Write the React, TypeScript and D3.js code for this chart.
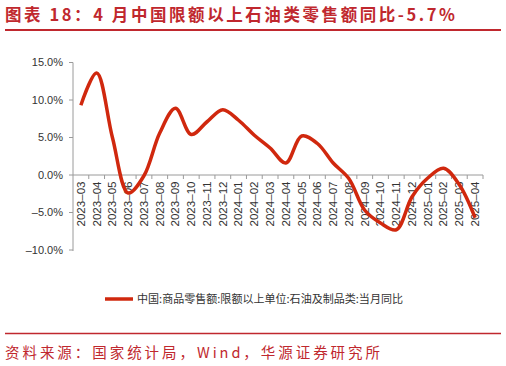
import React from "react";
import * as d3 from "d3";

const months = [
  "2023-03", "2023-04", "2023-05", "2023-06", "2023-07", "2023-08", "2023-09",
  "2023-10", "2023-11", "2023-12", "2024-01", "2024-02", "2024-03", "2024-04",
  "2024-05", "2024-06", "2024-07", "2024-08", "2024-09", "2024-10", "2024-11",
  "2024-12", "2025-01", "2025-02", "2025-03", "2025-04",
];
// 石油及制品类 当月同比 (%)
const oilYoY = [
  9.3, 13.6, 5.0, -2.4, -0.1, 5.6, 8.9,
  5.4, 7.1, 8.7, 7.3, 5.3, 3.6, 1.6,
  5.2, 4.2, 1.6, -0.5, -4.7, -6.4, -7.3,
  -2.9, -0.4, 0.9, -1.3, -5.7,
];
const yTicks = [-10, -5, 0, 5, 10, 15];

const titleText = "图表 18：4 月中国限额以上石油类零售额同比-5.7%";
const legendText = "中国:商品零售额:限额以上单位:石油及制品类:当月同比";
const sourceText = "资料来源：国家统计局，Wind，华源证券研究所";

const W = 506;
const H = 366;
const red = "#C0282E";
const lineColor = "#D0280E";
const axisColor = "#9a9a9a";
const txt = "#333";

export default function App() {
  const left = 73;
  const right = 483;
  const top = 62.5;
  const bottom = 250;

  const x = d3.scaleBand<string>().domain(months).range([left, right]);
  const y = d3.scaleLinear().domain([-10, 15]).range([bottom, top]);
  const fmt = (v: number) => d3.format(".1f")(v).replace("−", "–").replace("-", "–") + "%";

  const line = d3
    .line<number>()
    .x((_, i) => (x(months[i]) as number) + x.bandwidth() / 2)
    .y((d) => y(d))
    .curve(d3.curveCatmullRom.alpha(0.5));

  const y0 = y(0);

  return (
    <svg
      width={W}
      height={H}
      style={{ position: "absolute", left: 0, top: 0, background: "#fff" }}
      fontFamily="'Liberation Sans', Arial, sans-serif"
    >
      {/* title */}
      <text
        x={5}
        y={21}
        fill={red}
        fontSize={16.5}
        fontWeight="bold"
        fontFamily="'Noto Sans CJK SC', sans-serif"
        textLength={450}
        lengthAdjust="spacing"
      >
        {titleText}
      </text>
      <line x1={5} x2={501} y1={30} y2={30} stroke={red} strokeWidth={2} />

      {/* y axis */}
      <line x1={left} x2={left} y1={top} y2={bottom + 1} stroke={axisColor} strokeWidth={1} />
      {yTicks.map((t) => (
        <g key={t}>
          <line x1={left - 4} x2={left} y1={y(t)} y2={y(t)} stroke={axisColor} />
          <text x={63} y={y(t)} dy="0.35em" textAnchor="end" fontSize={11} fill={txt}>
            {fmt(t)}
          </text>
        </g>
      ))}

      {/* x axis at 0 */}
      <line x1={left} x2={right} y1={y0} y2={y0} stroke={axisColor} strokeWidth={1} />
      {months.map((m) => (
        <line
          key={"t" + m}
          x1={(x(m) as number) + x.bandwidth()}
          x2={(x(m) as number) + x.bandwidth()}
          y1={y0}
          y2={y0 + 4}
          stroke={axisColor}
        />
      ))}
      {months.map((m) => {
        const cx = (x(m) as number) + x.bandwidth() / 2;
        return (
          <text
            key={"l" + m}
            transform={`translate(${cx + 3.9},${y0 + 6.5}) rotate(-90)`}
            textAnchor="end"
            fontSize={11}
            fill={txt}
            textLength={45}
            lengthAdjust="spacingAndGlyphs"
          >
            {m.replace("-", "–")}
          </text>
        );
      })}

      {/* series */}
      <path d={line(oilYoY) || ""} fill="none" stroke={lineColor} strokeWidth={3.5} strokeLinejoin="round" />

      {/* legend */}
      <line x1={105} x2={133} y1={299} y2={299} stroke={lineColor} strokeWidth={3.5} />
      <text
        x={137}
        y={299}
        dy="0.35em"
        fontSize={11}
        fill={txt}
        fontFamily="'Noto Sans CJK SC', sans-serif"
        textLength={266}
        lengthAdjust="spacingAndGlyphs"
      >
        {legendText}
      </text>

      {/* footer */}
      <line x1={5} x2={501} y1={333.5} y2={333.5} stroke={red} strokeWidth={1.5} />
      <text
        x={5}
        y={358}
        fill={red}
        fontSize={14.5}
        fontFamily="'Noto Sans CJK SC', sans-serif"
        textLength={375}
        lengthAdjust="spacing"
      >
        {sourceText}
      </text>
    </svg>
  );
}
